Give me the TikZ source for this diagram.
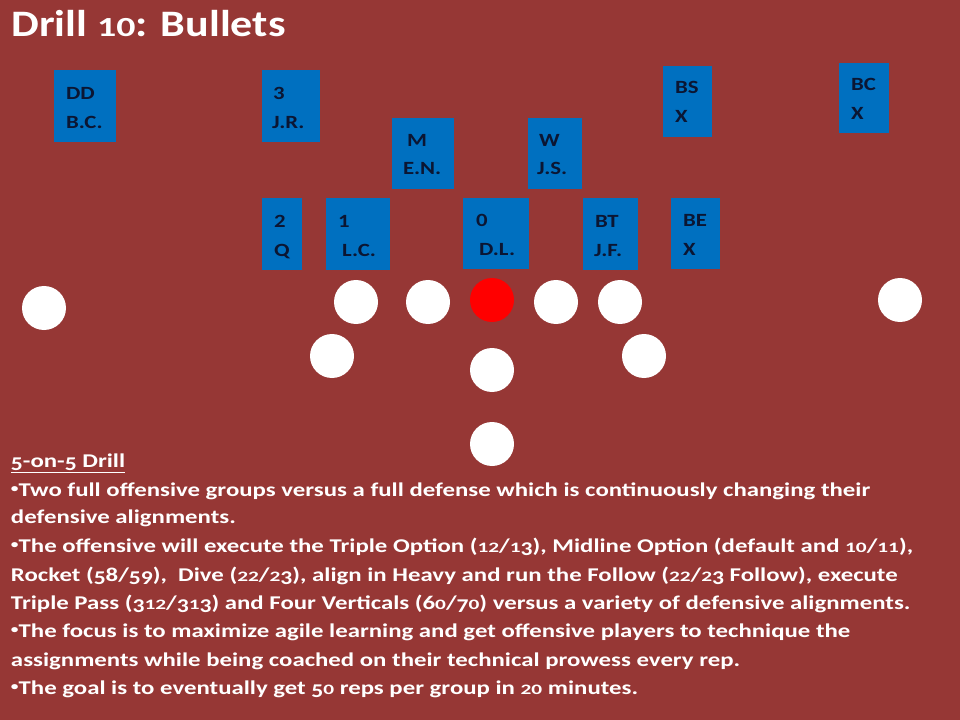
\documentclass[tikz,border=0pt]{standalone}
\usepackage{graphicx}
\usepackage{fontspec}
\setmainfont{Carlito}[BoldFont={* Bold}]
\newfontfamily\boxfont{Carlito}[BoldFont={* Bold},FakeStretch=1.22]
\newfontfamily\bodyfont{Carlito}[BoldFont={* Bold},FakeStretch=1.275]
\newfontfamily\titlefont{Carlito}[BoldFont={* Bold},FakeStretch=1.18]
% fake old-style figures
\newcommand\osx[1]{\scalebox{0.86}[0.74]{#1}}
\newcommand\osd[1]{\raisebox{-0.18em}{\scalebox{0.95}[1]{#1}}}
\newcommand\osdigit[1]{\ifcase#1 \osx{0}\or\osx{1}\or\osx{2}\or\osd{3}\or\osd{4}\or\osd{5}\or 6\or\osd{7}\or 8\or\osd{9}\fi}
\def\os#1{\osloop#1\relax}
\def\osloop#1{\ifx#1\relax\else\osdigit{#1}\expandafter\osloop\fi}
\newcommand\bul{\raisebox{0.2em}{\scalebox{0.62}{•}}}
\definecolor{bgred}{HTML}{963735}
\definecolor{boxblue}{HTML}{0070C0}
\definecolor{boxtext}{HTML}{0B1633}
\definecolor{redball}{HTML}{FF0000}
\tikzset{
  pbox/.style={fill=boxblue, draw=none, anchor=north west, inner sep=0pt, outer sep=0pt},
  ptxt/.style={anchor=base west, inner sep=0pt, outer sep=0pt, text=boxtext,
    font=\boxfont\fontsize{14pt}{16pt}\selectfont\bfseries},
  ball/.style={circle, fill=white, draw=none, minimum size=33pt, inner sep=0pt},
  rball/.style={ball, fill=redball},
  body/.style={anchor=base west, inner sep=0pt, outer sep=0pt, text=white,
    font=\bodyfont\fontsize{14.6pt}{17pt}\selectfont\bfseries},
}
\begin{document}
\begin{tikzpicture}[x=0.75pt,y=-0.75pt]
\fill[bgred] (0,0) rectangle (960,720);
\useasboundingbox (0,0) rectangle (960,720);
% title
\node[anchor=base west, inner sep=0pt, text=white, font=\titlefont\fontsize{28pt}{30pt}\selectfont\bfseries] (title) at (11,37) {Drill \os{10}: Bullets};
% boxes
\node[pbox, minimum width=46.5pt, minimum height=54pt] (bDD) at (54,70) {};
\node[pbox, minimum width=43.5pt, minimum height=54pt] (b3) at (262,70) {};
\node[pbox, minimum width=46.5pt, minimum height=53.25pt] (bM) at (392,118) {};
\node[pbox, minimum width=40.5pt, minimum height=53.25pt] (bW) at (528,118) {};
\node[pbox, minimum width=30pt, minimum height=54pt] (b2) at (262,198) {};
\node[pbox, minimum width=48pt, minimum height=54pt] (b1) at (326,198) {};
\node[pbox, minimum width=49.5pt, minimum height=53.25pt] (b0) at (463,198) {};
\node[pbox, minimum width=41.25pt, minimum height=54pt] (bBT) at (583,198) {};
\node[pbox, minimum width=36.75pt, minimum height=53.25pt] (bBE) at (671,198) {};
\node[pbox, minimum width=36.75pt, minimum height=53.25pt] (bBS) at (663,66) {};
\node[pbox, minimum width=37.5pt, minimum height=52.5pt] (bBC) at (839,63) {};
% box texts
\node[ptxt] (tDDa) at (66,100) {DD};
\node[ptxt] (tDDb) at (66,129) {B.C.};
\node[ptxt] (t3a) at (273,100) {3};
\node[ptxt] (t3b) at (272,129) {J.R.};
\node[ptxt] (tMa) at (407,147) {M};
\node[ptxt] (tMb) at (403,175) {E.N.};
\node[ptxt] (tWa) at (539,147) {W};
\node[ptxt] (tWb) at (537,175) {J.S.};
\node[ptxt] (t2a) at (274,228) {2};
\node[ptxt] (t2b) at (274,257) {Q};
\node[ptxt] (t1a) at (338,228) {1};
\node[ptxt] (t1b) at (342,257) {L.C.};
\node[ptxt] (t0a) at (476,227) {0};
\node[ptxt] (t0b) at (479,256) {D.L.};
\node[ptxt] (tBTa) at (595,228) {BT};
\node[ptxt] (tBTb) at (594,257) {J.F.};
\node[ptxt] (tBEa) at (683,227) {BE};
\node[ptxt] (tBEb) at (683,256) {X};
\node[ptxt] (tBSa) at (675,94) {BS};
\node[ptxt] (tBSb) at (675,123) {X};
\node[ptxt] (tBCa) at (851,91) {BC};
\node[ptxt] (tBCb) at (851,120) {X};
% balls
\node[ball] (cL) at (44,308) {};
\node[ball] (c1) at (356,302) {};
\node[ball] (c2) at (428,302) {};
\node[rball] (c3) at (492,300) {};
\node[ball] (c4) at (556,302) {};
\node[ball] (c5) at (620,302) {};
\node[ball] (cR) at (900,300) {};
\node[ball] (d1) at (332,356) {};
\node[ball] (d2) at (644,356) {};
\node[ball] (d3) at (492,370) {};
\node[ball] (e1) at (492,444) {};
% body text
\node[body] (l0) at (11,467) {\underline{\os{5}-on-\os{5} Drill}};
\node[body] (l1) at (11,496) {\bul Two full offensive groups versus a full defense which is continuously changing their};
\node[body] (l2) at (11,523) {defensive alignments.};
\node[body] (l3) at (11,552) {\bul The offensive will execute the Triple Option (\os{12}/\os{13}), Midline Option (default and \os{10}/\os{11}),};
\node[body] (l4) at (11,581) {Rocket (\os{58}/\os{59}),\ \ Dive (\os{22}/\os{23}), align in Heavy and run the Follow (\os{22}/\os{23} Follow), execute};
\node[body] (l5) at (11,609) {Triple Pass (\os{312}/\os{313}) and Four Verticals (\os{60}/\os{70}) versus a variety of defensive alignments.};
\node[body] (l6) at (11,637) {\bul The focus is to maximize agile learning and get offensive players to technique the};
\node[body] (l7) at (11,666) {assignments while being coached on their technical prowess every rep.};
\node[body] (l8) at (11,694) {\bul The goal is to eventually get \os{50} reps per group in \os{20} minutes.};
\end{tikzpicture}
\end{document}
